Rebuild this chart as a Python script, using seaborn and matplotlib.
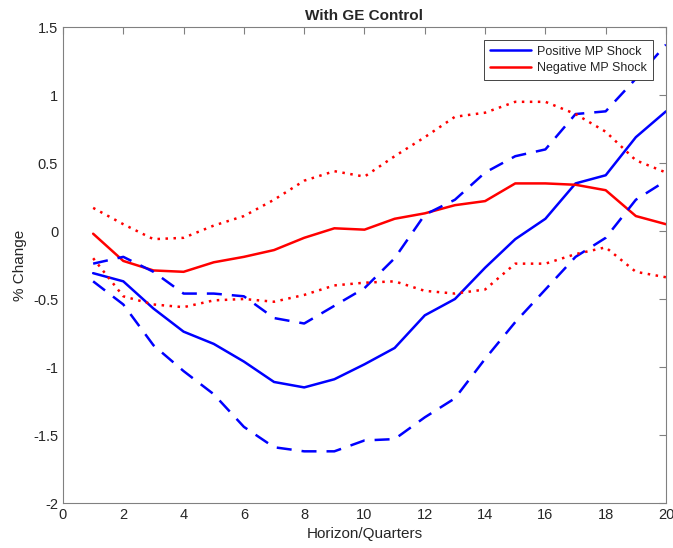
import numpy as np
import pandas as pd
import matplotlib
matplotlib.use("Agg")
import matplotlib.pyplot as plt
import seaborn as sns

horizon = list(range(1, 21))

pos_mid = [-0.31, -0.37, -0.57, -0.74, -0.83, -0.96, -1.11, -1.15, -1.09, -0.98,
           -0.86, -0.62, -0.50, -0.27, -0.06, 0.09, 0.35, 0.41, 0.69, 0.88]
pos_hi = [-0.24, -0.19, -0.30, -0.46, -0.46, -0.48, -0.64, -0.68, -0.55, -0.42,
          -0.20, 0.12, 0.23, 0.43, 0.55, 0.60, 0.86, 0.88, 1.12, 1.37]
pos_lo = [-0.37, -0.54, -0.84, -1.03, -1.20, -1.44, -1.59, -1.62, -1.62, -1.54,
          -1.53, -1.37, -1.23, -0.94, -0.67, -0.43, -0.19, -0.05, 0.23, 0.37]

neg_mid = [-0.02, -0.22, -0.29, -0.30, -0.23, -0.19, -0.14, -0.05, 0.02, 0.01,
           0.09, 0.13, 0.19, 0.22, 0.35, 0.35, 0.34, 0.30, 0.11, 0.05]
neg_hi = [0.17, 0.05, -0.06, -0.05, 0.04, 0.11, 0.23, 0.37, 0.44, 0.40,
          0.55, 0.69, 0.84, 0.87, 0.95, 0.95, 0.86, 0.73, 0.52, 0.43]
neg_lo = [-0.20, -0.48, -0.54, -0.56, -0.51, -0.50, -0.52, -0.47, -0.40, -0.38,
          -0.37, -0.44, -0.46, -0.43, -0.24, -0.24, -0.17, -0.12, -0.30, -0.34]


def main():
    sns.set_style("white")
    plt.rcParams["font.family"] = ["Liberation Sans", "DejaVu Sans"]

    df = pd.DataFrame({"h": horizon,
                       "pos_mid": pos_mid, "pos_hi": pos_hi, "pos_lo": pos_lo,
                       "neg_mid": neg_mid, "neg_hi": neg_hi, "neg_lo": neg_lo})

    fig = plt.figure(figsize=(6.73, 5.48), dpi=100)
    ax = fig.add_axes([0.0936, 0.0821, 0.896, 0.8686])

    blue = "#0000ff"
    red = "#ff0000"

    sns.lineplot(data=df, x="h", y="pos_mid", ax=ax, color=blue, lw=1.8,
                 label="Positive MP Shock")
    sns.lineplot(data=df, x="h", y="neg_mid", ax=ax, color=red, lw=1.8,
                 label="Negative MP Shock")
    sns.lineplot(data=df, x="h", y="pos_hi", ax=ax, color=blue, lw=1.8)
    sns.lineplot(data=df, x="h", y="pos_lo", ax=ax, color=blue, lw=1.8)
    sns.lineplot(data=df, x="h", y="neg_hi", ax=ax, color=red, lw=1.8)
    sns.lineplot(data=df, x="h", y="neg_lo", ax=ax, color=red, lw=1.8)
    lines = ax.get_lines()
    for ln in lines[2:4]:
        ln.set_dashes([6, 4])
    for ln in lines[4:6]:
        ln.set_dashes([1, 2.2])

    ax.set_xlim(0, 20)
    ax.set_ylim(-2, 1.5)
    ax.set_xticks(np.arange(0, 21, 2))
    ax.set_yticks(np.arange(-2, 1.51, 0.5))
    ax.set_yticklabels(["-2", "-1.5", "-1", "-0.5", "0", "0.5", "1", "1.5"])

    ax.tick_params(direction="in", length=5, width=0.8, colors="#262626",
                   labelsize=10.5, top=True, right=True, color="#808080")
    for s in ax.spines.values():
        s.set_color("#808080")
        s.set_linewidth(0.8)

    ax.set_title("With GE Control", fontsize=11, fontweight="bold", pad=5)
    ax.set_xlabel("Horizon/Quarters", fontsize=11, color="#262626")
    ax.set_ylabel("% Change", fontsize=11, color="#262626")

    leg = ax.legend(loc="upper right", fontsize=9, frameon=True, fancybox=False,
                    borderaxespad=1.05, handlelength=3.3, handletextpad=0.5,
                    borderpad=0.45, labelspacing=0.35)
    leg.get_frame().set_edgecolor("#262626")
    leg.get_frame().set_linewidth(0.6)
    leg.get_frame().set_alpha(1.0)

    fig.savefig("out.png", dpi=100)


if __name__ == "__main__":
    main()
